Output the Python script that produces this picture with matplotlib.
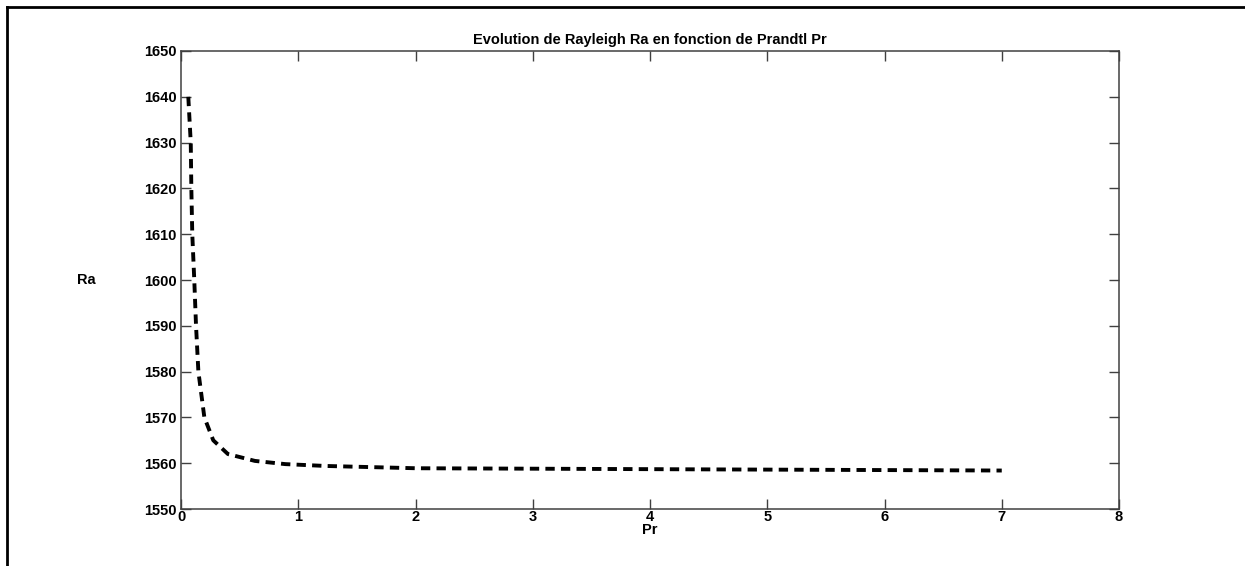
import matplotlib
matplotlib.use("Agg")
import matplotlib.pyplot as plt
from matplotlib.lines import Line2D

# values
pr = [0.062, 0.083, 0.088, 0.096, 0.113, 0.128, 0.148, 0.199, 0.275, 0.40,
      0.63, 0.89, 1.23, 2.0, 3.0, 4.0, 5.0, 6.0, 7.0]
ra = [1640.0, 1630.0, 1620.0, 1610.0, 1600.0, 1590.0, 1580.0, 1570.0, 1565.0, 1562.0,
      1560.5, 1559.8, 1559.4, 1558.9, 1558.8, 1558.7, 1558.6, 1558.5, 1558.4]

xticks = [0, 1, 2, 3, 4, 5, 6, 7, 8]
yticks = [1550, 1560, 1570, 1580, 1590, 1600, 1610, 1620, 1630, 1640, 1650]

plt.rcParams['font.family'] = ['Liberation Sans', 'DejaVu Sans']
plt.rcParams['font.weight'] = 'bold'

fig = plt.figure(figsize=(12.45, 5.66), dpi=100)
ax = fig.add_axes([0.1454, 0.1007, 0.7534, 0.8092])

ax.plot(pr, ra, color='black', linewidth=2.8, linestyle=(0, (2.4, 1.6)))

ax.set_xlim(0, 8)
ax.set_ylim(1550, 1650)
ax.set_xticks(xticks)
ax.set_yticks(yticks)
ax.tick_params(direction='in', length=7, width=1, top=True, right=True,
               labelsize=10.5, pad=3, color='#404040')
ax.tick_params(axis='x', pad=1)
for s in ax.spines.values():
    s.set_color('#404040')
    s.set_linewidth(1.1)

ax.set_title('Evolution de Rayleigh Ra en fonction de Prandtl Pr', fontsize=10.5,
             fontweight='bold', pad=5)
ax.set_xlabel('Pr', fontsize=10.5, fontweight='bold', labelpad=-1)
ax.set_ylabel('Ra', fontsize=10.5, fontweight='bold', rotation=0, labelpad=42, va='center')

# frame lines around the picture
fig.add_artist(Line2D([7 / 1245, 1.0], [1 - 7 / 566, 1 - 7 / 566], color='black', linewidth=2))
fig.add_artist(Line2D([7 / 1245, 7 / 1245], [0.0, 1 - 7 / 566], color='black', linewidth=2))

fig.savefig('out.png', dpi=100)
